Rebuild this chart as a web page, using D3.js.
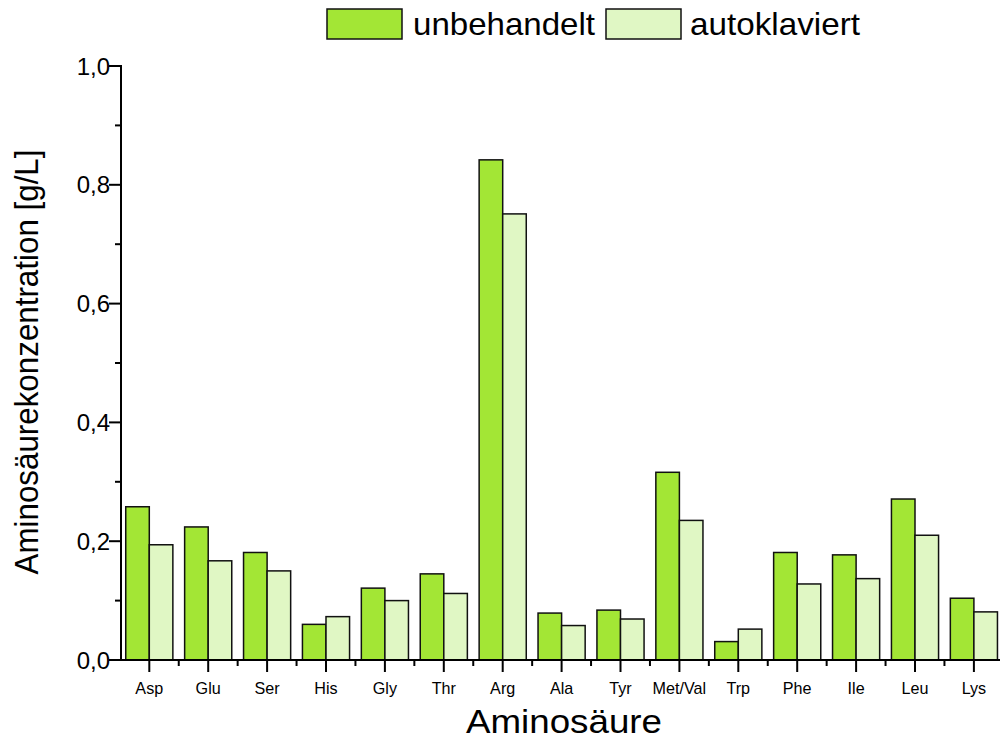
<!DOCTYPE html>
<html>
<head>
<meta charset="utf-8">
<script src="https://cdn.jsdelivr.net/npm/d3@7"></script>
<style>
  html, body { margin: 0; padding: 0; background: #fff; }
  svg { display: block; font-family: "Liberation Sans", Arial, sans-serif; }
</style>
</head>
<body>
<svg id="chart" width="1000" height="740"></svg>
<script>
// Amino acid concentrations [g/L], untreated vs. autoclaved
const categories = ["Asp", "Glu", "Ser", "His", "Gly", "Thr", "Arg", "Ala", "Tyr", "Met/Val", "Trp", "Phe", "Ile", "Leu", "Lys"];
const seriesNames = ["unbehandelt", "autoklaviert"];
const unbehandelt = [0.258, 0.224, 0.181, 0.060, 0.121, 0.145, 0.842, 0.079, 0.084, 0.316, 0.031, 0.181, 0.177, 0.271, 0.104];
const autoklaviert = [0.194, 0.167, 0.150, 0.073, 0.100, 0.112, 0.751, 0.058, 0.069, 0.235, 0.052, 0.128, 0.137, 0.210, 0.081];
const yTicks = [0, 0.2, 0.4, 0.6, 0.8, 1.0];
const yMinorTicks = [0.1, 0.3, 0.5, 0.7, 0.9];
const colors = ["#a3e635", "#e0f7c4"];

const svg = d3.select("#chart");
const plotLeft = 121, plotBottom = 660, plotTop = 66;
const step = 58.9;

const x = d3.scaleBand()
  .domain(categories)
  .range([119.85, 119.85 + step * categories.length])
  .paddingInner(0).paddingOuter(0);

// two bars per category, 10% gap on each side of the pair
const xSub = d3.scaleBand()
  .domain(seriesNames)
  .range([0, x.bandwidth()])
  .paddingInner(0)
  .paddingOuter(0.25);

const y = d3.scaleLinear().domain([0, 1]).range([plotBottom, plotTop]);

const series = [unbehandelt, autoklaviert];
const rows = categories.map((c, i) => ({ cat: c, vals: series.map((s, k) => ({ name: seriesNames[k], v: s[i], k })) }));

// bars
const g = svg.append("g");
g.selectAll("g.cat").data(rows).join("g")
  .attr("class", "cat")
  .attr("transform", d => `translate(${x(d.cat)},0)`)
  .selectAll("rect").data(d => d.vals).join("rect")
  .attr("x", d => xSub(d.name))
  .attr("width", xSub.bandwidth())
  .attr("y", d => y(d.v))
  .attr("height", d => y(0) - y(d.v))
  .attr("fill", d => colors[d.k])
  .attr("stroke", "#111")
  .attr("stroke-width", 1.5);

// y axis
const yAxis = svg.append("g").attr("transform", `translate(${plotLeft},0)`);
yAxis.append("line").attr("x1", 0).attr("x2", 0).attr("y1", plotTop - 1).attr("y2", plotBottom + 1)
  .attr("stroke", "#000").attr("stroke-width", 2);
yAxis.selectAll("line.major").data(yTicks).join("line").attr("class", "major")
  .attr("x1", -12).attr("x2", 0).attr("y1", d => y(d)).attr("y2", d => y(d))
  .attr("stroke", "#000").attr("stroke-width", 2);
yAxis.selectAll("line.minor").data(yMinorTicks).join("line").attr("class", "minor")
  .attr("x1", -6).attr("x2", 0).attr("y1", d => y(d)).attr("y2", d => y(d))
  .attr("stroke", "#000").attr("stroke-width", 2);
yAxis.selectAll("text").data(yTicks).join("text")
  .attr("x", -11).attr("y", d => y(d)).attr("dy", "0.36em")
  .attr("text-anchor", "end").attr("font-size", 24)
  .text(d => d3.format(".1f")(d).replace(".", ","));

// x axis
const xAxis = svg.append("g").attr("transform", `translate(0,${plotBottom})`);
xAxis.append("line").attr("x1", plotLeft - 1).attr("x2", 1000).attr("y1", 0).attr("y2", 0)
  .attr("stroke", "#000").attr("stroke-width", 2);
xAxis.selectAll("line.major").data(categories).join("line").attr("class", "major")
  .attr("x1", d => x(d) + x.bandwidth() / 2).attr("x2", d => x(d) + x.bandwidth() / 2)
  .attr("y1", 0).attr("y2", 12).attr("stroke", "#000").attr("stroke-width", 2);
xAxis.selectAll("line.minor").data(categories.slice(1)).join("line").attr("class", "minor")
  .attr("x1", d => x(d)).attr("x2", d => x(d))
  .attr("y1", 0).attr("y2", 6).attr("stroke", "#000").attr("stroke-width", 2);
xAxis.selectAll("text").data(categories).join("text")
  .attr("x", d => x(d) + x.bandwidth() / 2).attr("y", 34)
  .attr("text-anchor", "middle").attr("font-size", 17)
  .attr("transform", d => `translate(${x(d) + x.bandwidth() / 2},0) scale(0.95,1) translate(${-(x(d) + x.bandwidth() / 2)},0)`)
  .text(d => d);

// axis titles
svg.append("text")
  .attr("x", 564).attr("y", 733)
  .attr("text-anchor", "middle").attr("font-size", 33)
  .attr("textLength", 196).attr("lengthAdjust", "spacingAndGlyphs")
  .text("Aminosäure");

svg.append("text")
  .attr("transform", "translate(38,362) rotate(-90)")
  .attr("text-anchor", "middle").attr("font-size", 33)
  .attr("textLength", 425).attr("lengthAdjust", "spacingAndGlyphs")
  .text("Aminosäurekonzentration [g/L]");

// legend
const legendItems = [
  { name: seriesNames[0], color: colors[0], bx: 327, tx: 413, tw: 182 },
  { name: seriesNames[1], color: colors[1], bx: 606, tx: 690, tw: 170 }
];
const lg = svg.append("g");
lg.selectAll("rect").data(legendItems).join("rect")
  .attr("x", d => d.bx).attr("y", 9).attr("width", 75).attr("height", 30)
  .attr("fill", d => d.color).attr("stroke", "#111").attr("stroke-width", 1.5);
lg.selectAll("text").data(legendItems).join("text")
  .attr("x", d => d.tx).attr("y", 35)
  .attr("font-size", 32)
  .attr("textLength", d => d.tw).attr("lengthAdjust", "spacingAndGlyphs")
  .text(d => d.name);
</script>
</body>
</html>
